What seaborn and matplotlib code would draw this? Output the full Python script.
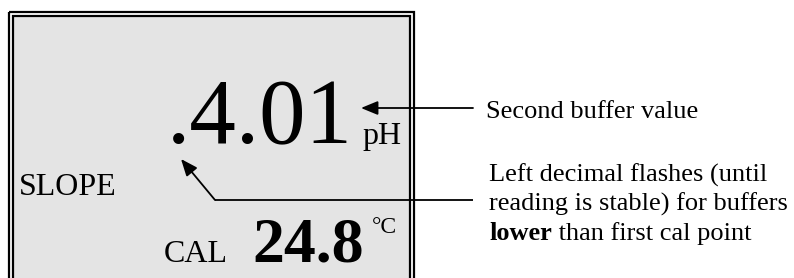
import matplotlib
matplotlib.use("Agg")
import matplotlib.pyplot as plt
import matplotlib.patches as mpatches
import seaborn as sns

# display readings
ph_reading = ".4.01"
ph_unit = "pH"
temp_reading = "24.8"
temp_unit = "°C"
mode_labels = ["SLOPE", "CAL"]

# callout texts
callout_first = "Second buffer value"
callout_lines = ["Left decimal flashes (until", "reading is stable) for buffers"]
callout_bold = "lower"
callout_tail = " than first cal point"

sns.set_theme(style="white")
plt.rcParams['font.family'] = ['Liberation Serif', 'DejaVu Serif']

fig = plt.figure(figsize=(7.94, 2.78), dpi=100)
ax = fig.add_axes([0, 0, 1, 1])
ax.set_xlim(0, 794)
ax.set_ylim(278, 0)
ax.axis("off")

# display frame (double line)
ax.add_patch(mpatches.Rectangle((9, 12), 405, 280, fill=False, ec="black", lw=1.6))
ax.add_patch(mpatches.Rectangle((13, 16), 397, 280, fc="#e4e4e4", ec="black", lw=1.6))

# display contents
ax.text(167, 143, ph_reading, fontsize=67, va="baseline", ha="left", color="black")
ax.text(362, 144, ph_unit, fontsize=23, va="baseline", ha="left", color="black")
ax.text(19, 195, mode_labels[0], fontsize=23, va="baseline", ha="left", color="black")
ax.text(164, 262, mode_labels[1], fontsize=23, va="baseline", ha="left", color="black")
ax.text(252, 262, temp_reading, fontsize=46, fontweight="bold", va="baseline", ha="left", color="black")
ax.text(372, 233, temp_unit, fontsize=17, va="baseline", ha="left", color="black")

# arrows
arrow = dict(arrowstyle="-|>,head_length=0.85,head_width=0.35", color="black", lw=1.3,
             shrinkA=0, shrinkB=0)
ax.annotate("", xy=(361, 108), xytext=(473, 108), arrowprops=arrow)
ax.plot([473, 215], [200, 200], color="black", lw=1.3, solid_capstyle="butt")
ax.annotate("", xy=(181, 159), xytext=(215, 200), arrowprops=arrow)

# callout texts
ax.text(486, 118, callout_first, fontsize=19, va="baseline", ha="left", color="black")
for i, line in enumerate(callout_lines):
    ax.text(489, 182 + 29 * i, line, fontsize=19, va="baseline", ha="left", color="black")
t = ax.text(489, 240, callout_bold, fontsize=19, fontweight="bold", va="baseline",
            ha="left", color="black")
fig.canvas.draw()
bb = t.get_window_extent()
x_end = ax.transData.inverted().transform((bb.x1, bb.y0))[0]
ax.text(x_end, 240, callout_tail, fontsize=19, va="baseline", ha="left", color="black")

fig.savefig("out.png", dpi=100)
